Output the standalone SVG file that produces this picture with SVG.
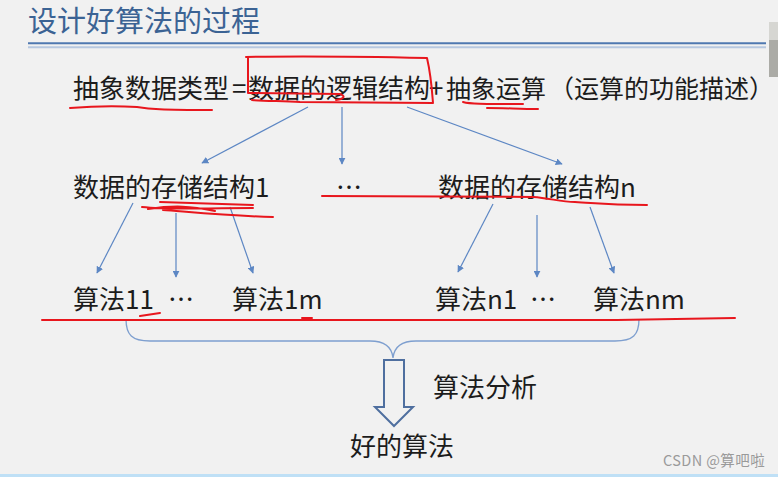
<svg xmlns="http://www.w3.org/2000/svg" width="778" height="477" viewBox="0 0 778 477">
<defs>
<marker id="ah" viewBox="0 0 10 10" refX="9" refY="5" markerWidth="7" markerHeight="7" orient="auto" markerUnits="userSpaceOnUse">
<path d="M0,0 L10,5 L0,10 z" fill="#5d87c4"/>
</marker>
<style>
text{font-family:"Noto Sans CJK SC","Noto Sans",sans-serif;fill:#1c1c1c;font-size:26px}
.title{fill:#3b6394;font-size:29px}
.conn{stroke:#5d87c4;stroke-width:1.2;fill:none;marker-end:url(#ah)}
.red{stroke:#e8161d;stroke-width:2;fill:none;stroke-linecap:round;stroke-linejoin:round}
.wm{fill:#9a9a9a;font-size:14.5px;letter-spacing:0.4px}
</style>
</defs>
<rect x="0" y="0" width="778" height="477" fill="#f1f1f1"/>
<rect x="769" y="22" width="9" height="18" fill="#d6d6d2"/>
<rect x="769" y="40" width="9" height="37" fill="#ababa6"/>
<rect x="0" y="474" width="778" height="3" fill="#bfe0f6"/>

<g id="title">
<text class="title" x="28" y="32">设计好算法的过程</text>
<line x1="28" y1="43.3" x2="766" y2="43.3" stroke="#4f78b0" stroke-width="2"/>
<line x1="28" y1="47.3" x2="766" y2="47.3" stroke="#b7c8e0" stroke-width="2"/>
</g>

<g id="formula">
<text y="98"><tspan x="73">抽象数据类型</tspan><tspan x="232">=</tspan><tspan x="248">数据的逻辑结构</tspan><tspan x="429">+</tspan><tspan x="446" font-size="25">抽象运算</tspan><tspan x="549" font-size="25">（运算的功能描述）</tspan></text>
</g>

<g id="storage1"><text x="73" y="197">数据的存储结构1</text></g>
<g id="storageDots"><text x="336" y="197" font-size="20">…</text></g>
<g id="storageN"><text x="438" y="197">数据的存储结构n</text></g>

<g id="alg11"><text x="73" y="309">算法11</text></g>
<g id="algDots1"><text x="168" y="309" font-size="20">…</text></g>
<g id="alg1m"><text x="232" y="309">算法1m</text></g>
<g id="algn1"><text x="435" y="309">算法n1</text></g>
<g id="algDots2"><text x="530" y="309" font-size="20">…</text></g>
<g id="algnm"><text x="593" y="309">算法nm</text></g>

<g id="analysis"><text x="433" y="397">算法分析</text></g>
<g id="good"><text x="350" y="456">好的算法</text></g>
<g id="watermark"><text class="wm" x="663" y="466">CSDN @算吧啦</text></g>

<g id="connectors">
<line class="conn" x1="308" y1="107" x2="202" y2="163"/>
<line class="conn" x1="342" y1="107" x2="342" y2="164"/>
<line class="conn" x1="407" y1="107" x2="562" y2="164"/>
<line class="conn" x1="133" y1="203" x2="97" y2="273"/>
<line class="conn" x1="176" y1="213" x2="176" y2="277"/>
<line class="conn" x1="230" y1="207" x2="253" y2="273"/>
<line class="conn" x1="493" y1="204" x2="458" y2="272"/>
<line class="conn" x1="537" y1="215" x2="537" y2="277"/>
<line class="conn" x1="590" y1="207" x2="614" y2="273"/>
<path d="M126,319 C126,335 132,341 150,341 L370,341 C385,341 392,348 393,358 C394,348 401,341 416,341 L615,341 C633,341 639,335 639,319" stroke="#7e9fcf" stroke-width="1.3" fill="none"/>
<polygon points="384,360 404,360 404,407 413,407 394,426 375,407 384,407" fill="#f1f1f1" stroke="#4f6f9f" stroke-width="2"/>
</g>

<g id="annotations">
<path class="red" d="M246,57 C300,56 380,57 427,58 C431,75 432,90 433,103 L300,102 C280,101 265,101 252,100"/>
<path class="red" d="M248,57 L248,93 L340,94 C346,96 344,99 336,100"/>
<path class="red" d="M70,108 C95,106 120,106 137,107 C150,109 160,110 212,110"/>
<path class="red" d="M463,102 C470,104 480,104 523,104 M487,108 C505,108 520,109 538,109"/>
<path class="red" d="M160,202 L253,205 M142,207 C170,210 200,208 253,208 M163,210 C190,212 230,216 273,217 M148,209 C175,205 190,206 215,211"/>
<path class="red" d="M322,196 C400,196 500,197 533,197 C550,198 560,202 575,202 C595,203 605,205 647,205"/>
<path class="red" d="M140,316 L160,313"/>
<path class="red" d="M42,320 L617,320 L735,318"/>
<path class="red" d="M302,318 L312,318" stroke-width="3"/>
</g>
</svg>
